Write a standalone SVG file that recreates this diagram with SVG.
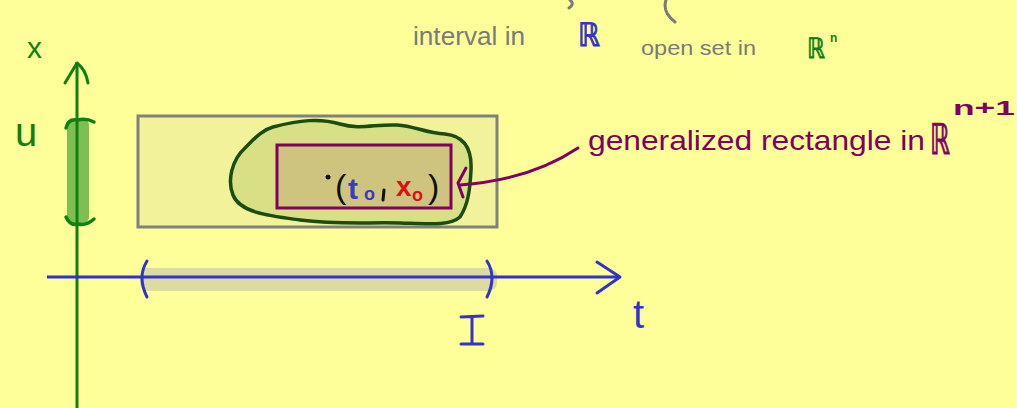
<svg xmlns="http://www.w3.org/2000/svg" width="1017" height="408" viewBox="0 0 1017 408">
<style>
.hand{font-family:"Liberation Sans","DejaVu Sans",sans-serif;}
.gray{fill:#7a7a7a;}
.pur{fill:#800060;}
.ln{fill:none;stroke-linecap:round;stroke-linejoin:round;}
</style>
<rect width="1017" height="408" fill="#ffff99"/>
<g id="top-brackets">
<path class="ln" d="M570,0 Q575,4 569,8" stroke="#7a7a7a" stroke-width="3"/>
<path class="ln" d="M666,0 Q662,12 675,22" stroke="#7a7a7a" stroke-width="3"/>
</g>
<g id="label-interval">
<text class="hand gray" x="413" y="45" font-size="26" textLength="112" lengthAdjust="spacingAndGlyphs">interval in</text>
<text class="hand" x="578" y="46" font-size="32" fill="#3333cc" stroke="#3333cc" stroke-width="1" textLength="22" lengthAdjust="spacingAndGlyphs">ℝ</text>
</g>
<g id="label-openset">
<text class="hand gray" x="641" y="55" font-size="20" textLength="115" lengthAdjust="spacingAndGlyphs">open set in</text>
<text class="hand" x="807" y="58" font-size="28" fill="#108010" stroke="#108010" stroke-width="0.8" textLength="18" lengthAdjust="spacingAndGlyphs">ℝ</text>
<text class="hand" x="830" y="42" font-size="12" fill="#108010" font-weight="bold">n</text>
</g>
<g id="domain-box">
<rect x="138" y="116" width="359" height="111" fill="#f2f29a" stroke="#808080" stroke-width="3"/>
</g>
<g id="interval-I">
<rect x="140" y="268" width="357" height="23" rx="8" fill="#dcdca0"/>
</g>
<g id="set-U">
<rect x="67" y="119" width="22" height="104" rx="6" fill="#7dbf50"/>
</g>
<g id="open-set-blob">
<path d="M273,127 C300,120 320,118 340,124 C360,130 375,124 397,125 C415,126 425,133 445,134 C465,136 472,150 471,170 C470,190 468,205 460,217 C450,226 430,224 400,223 C370,222 340,225 300,220 C270,216 240,213 233,195 C227,180 232,160 245,148 C255,138 262,130 273,127 Z" fill="#d9df85" stroke="#1a4d0f" stroke-width="3.5"/>
</g>
<g id="rectangle">
<rect x="277" y="145" width="174" height="63" fill="#cfc47f" stroke="#800060" stroke-width="3"/>
<circle cx="328" cy="177" r="2.5" fill="#111"/>
<text class="hand" x="335" y="198" font-size="34" fill="#111">(</text>
<text class="hand" x="348" y="199" font-size="30" fill="#3b3bbb" font-weight="bold">t</text>
<text class="hand" x="364" y="200" font-size="18" fill="#3b3bbb" font-weight="bold">o</text>
<path class="ln" d="M384,190 L383,200" stroke="#111" stroke-width="3"/>
<text class="hand" x="396" y="196" font-size="28" fill="#dd1111" font-weight="bold">x</text>
<text class="hand" x="412" y="201" font-size="18" fill="#dd1111" font-weight="bold">o</text>
<text class="hand" x="428" y="198" font-size="34" fill="#111">)</text>
</g>
<g id="axis-x">
<line x1="77" y1="62" x2="77" y2="408" stroke="#108010" stroke-width="3"/>
<path class="ln" d="M65,83 L77,63 Q86,70 88,83" stroke="#108010" stroke-width="3"/>
<path class="ln" d="M66,128 Q68,118 78,120 Q86,118 94,122" stroke="#108010" stroke-width="3.5"/>
<path class="ln" d="M66,217 Q70,226 78,224 Q86,226 94,219" stroke="#108010" stroke-width="3.5"/>
<text class="hand" x="27" y="58" font-size="30" fill="#108010">x</text>
<text class="hand" x="15" y="146" font-size="40" fill="#108010">u</text>
</g>
<g id="axis-t">
<line x1="47" y1="277" x2="620" y2="277" stroke="#3333cc" stroke-width="3"/>
<path class="ln" d="M597,262 L620,277 L597,293" stroke="#3333cc" stroke-width="3"/>
<path class="ln" d="M147,261 Q137,277 147,297" stroke="#3333cc" stroke-width="3"/>
<path class="ln" d="M487,261 Q497,277 487,297" stroke="#3333cc" stroke-width="3"/>
<text class="hand" x="633" y="328" font-size="40" fill="#3333cc">t</text>
<path class="ln" d="M461,317 L483,316 M472,317 L472,343 M461,344 L483,344" stroke="#3333cc" stroke-width="3"/>
</g>
<g id="connectors">
<path class="ln" d="M578,148 Q530,180 460,185" stroke="#800060" stroke-width="3"/>
<path class="ln" d="M466,168 L458,183 L463,197" stroke="#800060" stroke-width="3"/>
</g>
<g id="label-rect">
<text class="hand pur" x="588" y="150" font-size="28" textLength="337" lengthAdjust="spacingAndGlyphs">generalized rectangle in</text>
<text class="hand pur" x="930" y="154" font-size="42" stroke="#800060" stroke-width="1" textLength="20" lengthAdjust="spacingAndGlyphs">ℝ</text>
<text class="hand pur" x="953" y="115" font-size="20" font-weight="bold" textLength="62" lengthAdjust="spacingAndGlyphs">n+1</text>
</g>
</svg>
